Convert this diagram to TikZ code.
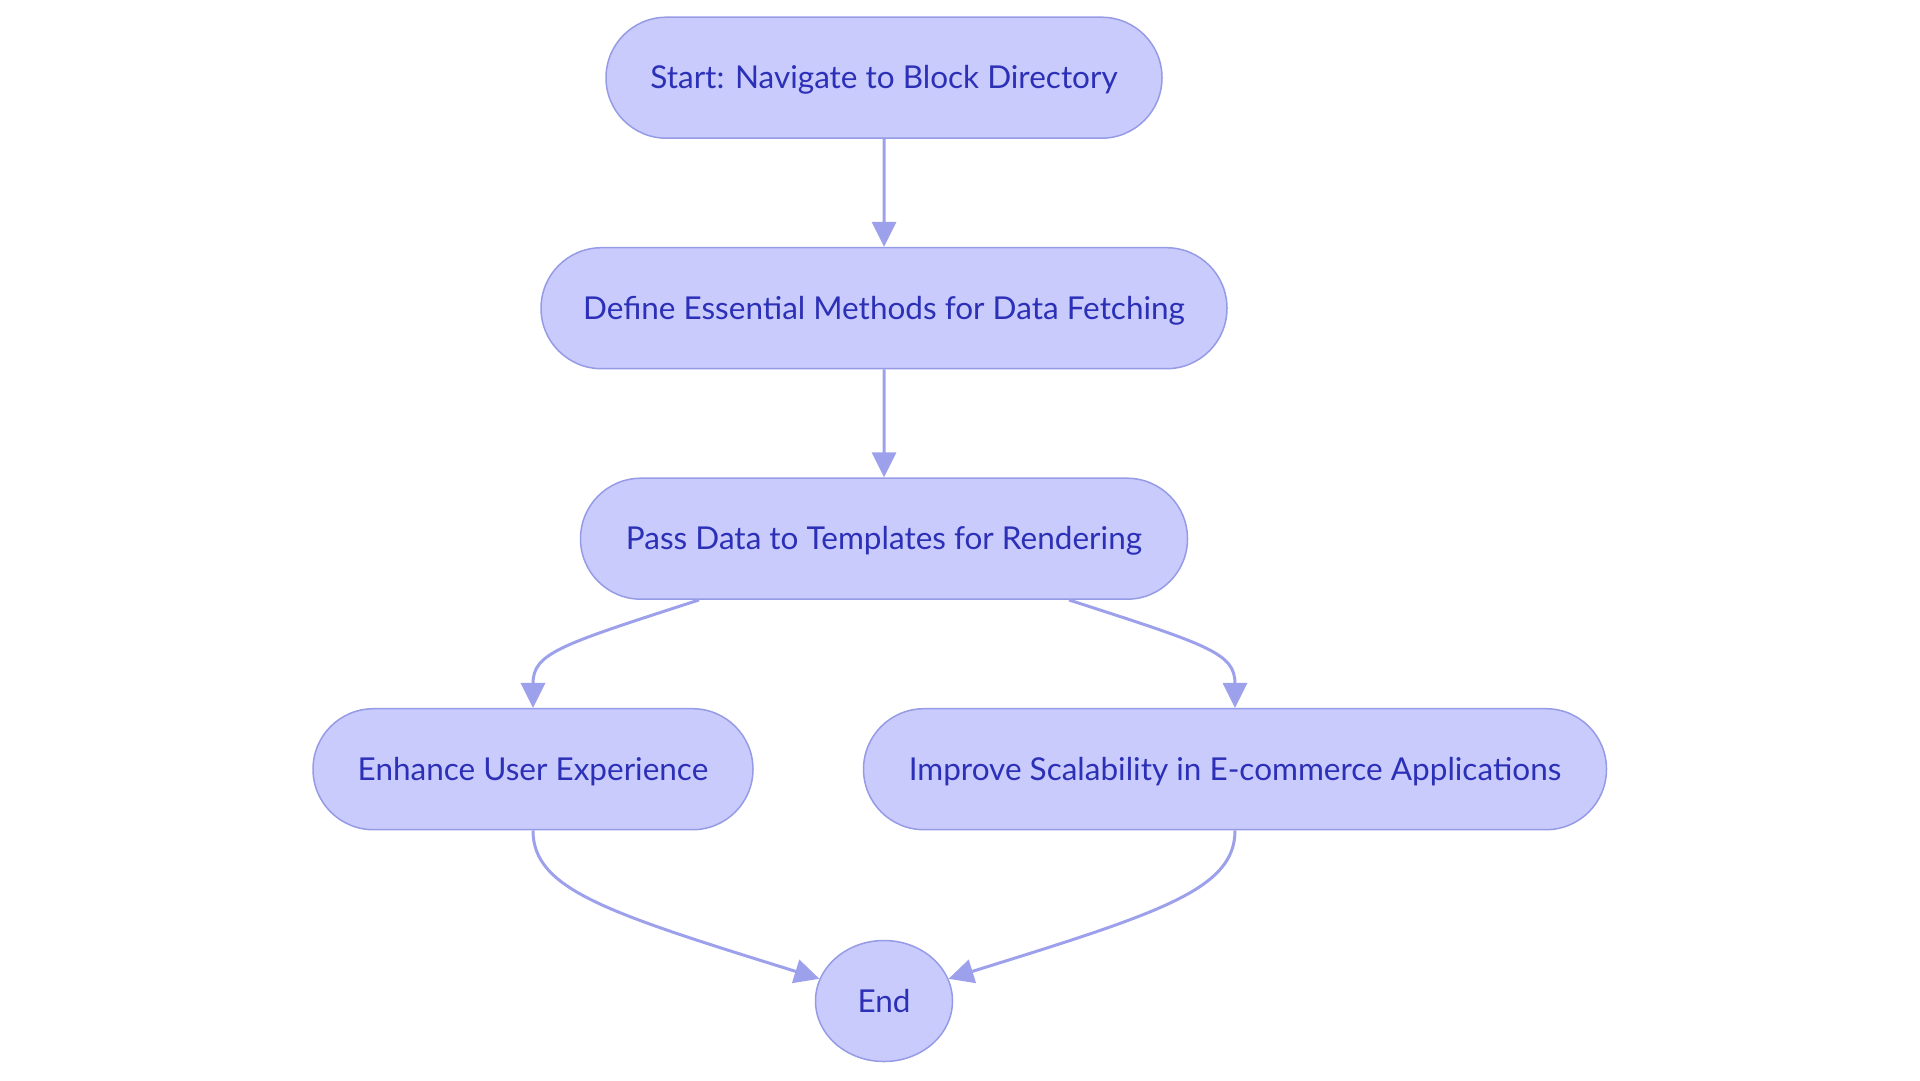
\documentclass[tikz,border=0pt]{standalone}
\usepackage{fontspec}
\setmainfont{Lato}
\usetikzlibrary{positioning,arrows.meta,calc,shapes.misc,shapes.geometric}
\definecolor{PillFill}{RGB}{201,203,252}
\definecolor{PillLine}{RGB}{150,155,230}
\definecolor{PillText}{RGB}{44,48,182}
\definecolor{EdgeLine}{RGB}{157,161,236}
\tikzset{
  flow/.style={-{Triangle[length=25pt,width=24pt]},line width=3pt,draw=EdgeLine},
  pill/.style={rounded rectangle,draw=PillLine,fill=PillFill,line width=1.5pt,
    minimum height=121pt,inner sep=0pt,text=PillText,text height=22pt,text depth=0pt,
    font=\fontsize{31.5}{36}\selectfont},
  endpill/.style={pill,ellipse,minimum width=137pt}
}
\begin{document}
\begin{tikzpicture}[x=1pt,y=-1pt,node distance=108pt]
  \useasboundingbox (0,0) rectangle (1920,1080);
  \node[pill,minimum width=556pt] (start) at (884,77.7) {Start: Navigate to Block Directory};
  \node[pill,below=of start,minimum width=686pt] (define) {Define Essential Methods for Data Fetching};
  \node[pill,below=of define,minimum width=607pt] (pass) {Pass Data to Templates for Rendering};
  \node[pill,below=of pass,xshift=-351pt,minimum width=440pt] (enhance) {Enhance User Experience};
  \node[pill,below=of pass,xshift=351pt,minimum width=743pt] (improve) {Improve Scalability in E-commerce Applications};
  \node[endpill] (end) at (884,1001) {End};
  \draw[flow] (start) -- (define);
  \draw[flow] (define) -- (pass);
  \draw[flow] ([xshift=-185pt]pass.south) .. controls +(-139,45) and +(0,-55) .. (enhance.north);
  \draw[flow] ([xshift=185pt]pass.south) .. controls +(139,45) and +(0,-55) .. (improve.north);
  \draw[flow] (enhance.south) .. controls +(0,59) and +(-212,-66) .. (end.161);
  \draw[flow] (improve.south) .. controls +(0,59) and +(212,-66) .. (end.19);
\end{tikzpicture}
\end{document}
